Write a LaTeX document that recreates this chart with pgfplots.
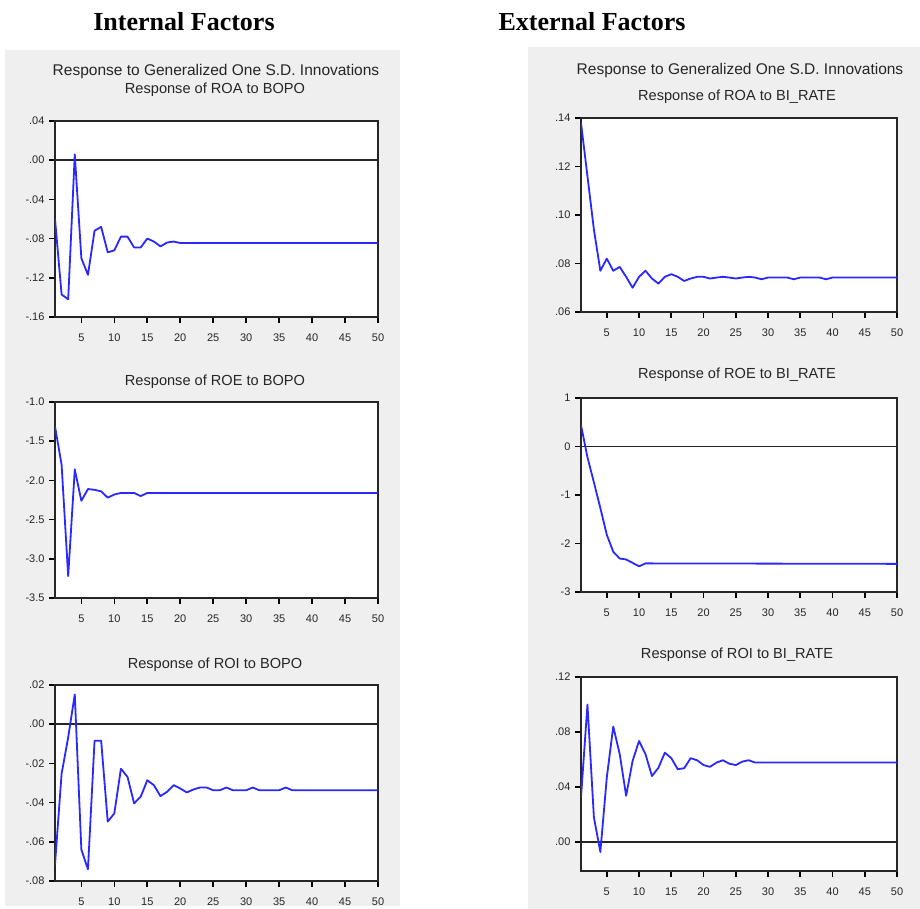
\documentclass[border=0pt]{standalone}
\usepackage{pgfplots}
\pgfplotsset{compat=1.18}
\usepackage{fontspec}
\setmainfont{Liberation Sans}
\newfontfamily\hdrfont{Liberation Serif}
\definecolor{panelgray}{RGB}{239,239,239}
\definecolor{irfblue}{RGB}{40,40,255}

\pgfplotsset{irf/.style={
  scale only axis, width=323pt, height=196pt,
  xmin=1, xmax=50,
  xtick={5,10,15,20,25,30,35,40,45,50},
  xticklabels={5,10,15,20,25,30,35,40,45,50},
  scaled y ticks=false, scaled x ticks=false,
  tick align=outside, xtick pos=left, ytick pos=left,
  major tick length=6pt,
  every tick/.style={black, line width=1.6pt},
  axis line style={line width=2.2pt, black!85},
  axis background/.style={fill=white},
  tick label style={font=\fontsize{11}{12}\selectfont, text=black!85},
  xticklabel style={yshift=-7pt},
  yticklabel style={xshift=-1pt},
}}
\tikzset{ttl/.style={font=\fontsize{15.5}{17}\selectfont, text=black!85, inner sep=0pt},
         sub/.style={font=\fontsize{14.6}{16}\selectfont, text=black!85, inner sep=0pt},
         irfline/.style={irfblue, line width=1.8pt, line join=round},
         zeroline/.style={black!85, line width=1.8pt}}

\begin{document}
\begin{tikzpicture}[x=1pt,y=1pt]
\path[use as bounding box] (0pt,0pt) rectangle (920pt,-909pt);
\fill[panelgray] (5pt,-50pt) rectangle (400pt,-906pt);
\fill[panelgray] (528pt,-47pt) rectangle (920pt,-909pt);

\node[font=\hdrfont\bfseries\fontsize{26}{30}\selectfont, inner sep=0pt] at (184pt,-22pt) {Internal Factors};
\node[font=\hdrfont\bfseries\fontsize{26}{30}\selectfont, inner sep=0pt] at (592pt,-22pt) {External Factors};

\node[ttl] at (216pt,-71pt) {Response to Generalized One S.D. Innovations};
\node[sub] at (215pt,-90pt) {Response of ROA to BOPO};
\node[sub] at (215pt,-382pt) {Response of ROE to BOPO};
\node[sub] at (215pt,-665pt) {Response of ROI to BOPO};
\node[ttl] at (740pt,-70pt) {Response to Generalized One S.D. Innovations};
\node[sub] at (737pt,-97pt) {Response of ROA to BI\_RATE};
\node[sub] at (737pt,-375pt) {Response of ROE to BI\_RATE};
\node[sub] at (737pt,-655pt) {Response of ROI to BI\_RATE};

% Panel 1: ROA to BOPO
\begin{axis}[irf, at={(55pt,-121pt)}, anchor=north west,
  ymin=-0.16, ymax=0.04,
  ytick={-0.16,-0.12,-0.08,-0.04,0,0.04},
  yticklabels={-.16,-.12,-.08,-.04,.00,.04}]
\addplot[zeroline, forget plot] coordinates {(1,0) (50,0)};
\addplot[irfline] coordinates {
(1,-0.060) (2,-0.137) (3,-0.142) (4,0.006) (5,-0.100) (6,-0.117) (7,-0.072)
(8,-0.068) (9,-0.094) (10,-0.092) (11,-0.078) (12,-0.078) (13,-0.089)
(14,-0.089) (15,-0.080) (16,-0.083) (17,-0.088) (18,-0.084) (19,-0.083)
(20,-0.0845) (50,-0.0845)};
\end{axis}

% Panel 2: ROE to BOPO
\begin{axis}[irf, at={(55pt,-402pt)}, anchor=north west,
  ymin=-3.5, ymax=-1.0,
  ytick={-3.5,-3.0,-2.5,-2.0,-1.5,-1.0},
  yticklabels={-3.5,-3.0,-2.5,-2.0,-1.5,-1.0}]
\addplot[irfline] coordinates {
(1,-1.31) (2,-1.80) (3,-3.22) (4,-1.86) (5,-2.26) (6,-2.11) (7,-2.12)
(8,-2.14) (9,-2.22) (10,-2.18) (11,-2.16) (12,-2.16) (13,-2.16)
(14,-2.20) (15,-2.16) (50,-2.16)};
\end{axis}

% Panel 3: ROI to BOPO
\begin{axis}[irf, at={(55pt,-685pt)}, anchor=north west,
  ymin=-0.08, ymax=0.02,
  ytick={-0.08,-0.06,-0.04,-0.02,0,0.02},
  yticklabels={-.08,-.06,-.04,-.02,.00,.02}]
\addplot[zeroline, forget plot] coordinates {(1,0) (50,0)};
\addplot[irfline] coordinates {
(1,-0.0716) (2,-0.0253) (3,-0.0067) (4,0.0152) (5,-0.064) (6,-0.074)
(7,-0.0084) (8,-0.0084) (9,-0.0497) (10,-0.0455) (11,-0.0227) (12,-0.0269)
(13,-0.0404) (14,-0.037) (15,-0.0286) (16,-0.0311) (17,-0.0367) (18,-0.0345)
(19,-0.0311) (20,-0.0328) (21,-0.0348) (22,-0.0333) (23,-0.0323) (24,-0.0323)
(25,-0.0337) (26,-0.0337) (27,-0.0323) (28,-0.0337) (30,-0.0337) (31,-0.0323)
(32,-0.0337) (35,-0.0337) (36,-0.0323) (37,-0.0337) (50,-0.0337)};
\end{axis}

% Panel 4: ROA to BI_RATE
\begin{axis}[irf, width=316pt, height=194pt, at={(581pt,-118pt)}, anchor=north west,
  ymin=0.06, ymax=0.14,
  ytick={0.06,0.08,0.10,0.12,0.14},
  yticklabels={.06,.08,.10,.12,.14}]
\addplot[irfline] coordinates {
(1,0.138) (2,0.116) (3,0.094) (4,0.077) (5,0.082) (6,0.077) (7,0.0786)
(8,0.0745) (9,0.070) (10,0.0745) (11,0.077) (12,0.0738) (13,0.0717)
(14,0.0745) (15,0.0756) (16,0.0745) (17,0.0728) (18,0.0738) (19,0.0745)
(20,0.0745) (21,0.0738) (22,0.0742) (23,0.0745) (24,0.0742) (25,0.0738)
(26,0.0742) (27,0.0745) (28,0.0742) (29,0.0735) (30,0.0742) (33,0.0742)
(34,0.0735) (35,0.0742) (38,0.0742) (39,0.0735) (40,0.0742) (50,0.0742)};
\end{axis}

% Panel 5: ROE to BI_RATE
\begin{axis}[irf, width=316pt, height=194pt, at={(581pt,-398pt)}, anchor=north west,
  ymin=-3, ymax=1,
  ytick={-3,-2,-1,0,1},
  yticklabels={-3,-2,-1,0,1}]
\addplot[zeroline, forget plot] coordinates {(1,0) (50,0)};
\addplot[irfline] coordinates {
(1,0.44) (2,-0.22) (3,-0.74) (4,-1.27) (5,-1.82) (6,-2.17) (7,-2.31)
(8,-2.33) (9,-2.40) (10,-2.47) (11,-2.41) (50,-2.42)};
\end{axis}

% Panel 6: ROI to BI_RATE
\begin{axis}[irf, width=316pt, height=194pt, at={(581pt,-677pt)}, anchor=north west,
  ymin=-0.021, ymax=0.12,
  ytick={0,0.04,0.08,0.12},
  yticklabels={.00,.04,.08,.12}]
\addplot[zeroline, forget plot] coordinates {(1,0) (50,0)};
\addplot[irfline] coordinates {
(1,0.0325) (2,0.100) (3,0.018) (4,-0.0072) (5,0.047) (6,0.084) (7,0.064)
(8,0.0337) (9,0.059) (10,0.0735) (11,0.0639) (12,0.048) (13,0.054)
(14,0.065) (15,0.061) (16,0.053) (17,0.0537) (18,0.061) (19,0.0595)
(20,0.056) (21,0.0547) (22,0.0578) (23,0.0595) (24,0.057) (25,0.056)
(26,0.0585) (27,0.0595) (28,0.0578) (50,0.0578)};
\end{axis}
\end{tikzpicture}
\end{document}
